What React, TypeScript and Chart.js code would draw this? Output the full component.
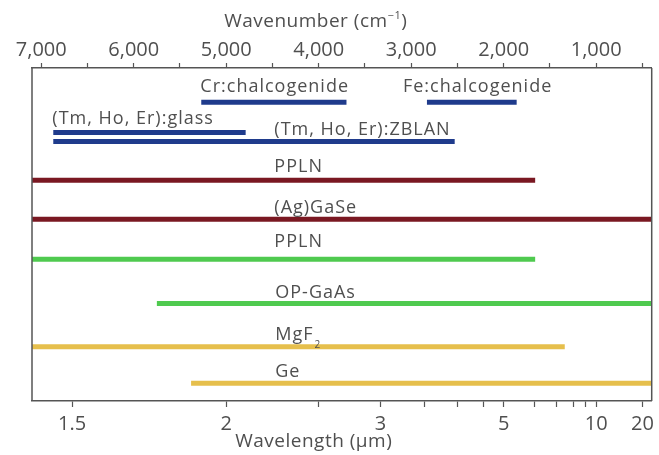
import React, { useEffect, useRef } from 'react';
import { Chart, registerables } from 'chart.js';

Chart.register(...registerables);

const WIDTH = 659;
const HEIGHT = 455;
const FONT_FAMILY = '"Open Sans", "DejaVu Sans", sans-serif';
const TEXT_COLOR = '#4f4f4f';
const AXIS_COLOR = '#555555';

// Horizontal axis: wavenumber in cm⁻¹, high values on the left
const wavenumberMax = 7100;
const wavenumberMin = 400;
const wavenumberTicks = [7000, 6500, 6000, 5500, 5000, 4500, 4000, 3500, 3000, 2500, 2000, 1500, 1000, 500];
const wavenumberTickLabels = [7000, 6000, 5000, 4000, 3000, 2000, 1000];

// The same axis read as wavelength (µm)
const wavelengthTicks = [1.5, 2, 2.5, 3, 3.5, 4, 4.5, 5, 6, 7, 8, 9, 10, 20];
const wavelengthTickLabels = [1.5, 2, 3, 5, 10, 20];

// Comb sources: spectral span (cm⁻¹) and lane (0 = bottom, 10 = top)
const sourceNames = ['Cr:chalcogenide', 'Fe:chalcogenide', '(Tm, Ho, Er):glass', '(Tm, Ho, Er):ZBLAN', 'PPLN', '(Ag)GaSe', 'PPLN', 'OP-GaAs', 'MgF2', 'Ge'];
const sourceKinds = ['laser', 'laser', 'laser', 'laser', 'opo', 'opo', 'dfg', 'dfg', 'micro', 'micro'];
const spanHigh = [5270, 2830, 6870, 6870, 7100, 7100, 7100, 5750, 7100, 5380];
const spanLow = [3700, 1860, 4790, 2530, 1660, 400, 1660, 400, 1340, 400];
const lanes = [8.97, 8.97, 8.06, 7.79, 6.63, 5.46, 4.26, 2.93, 1.63, 0.53];

// Name tags: text, subscript, left end (cm⁻¹) and baseline lane of the text
const tagTexts = ['Cr:chalcogenide', 'Fe:chalcogenide', '(Tm, Ho, Er):glass', '(Tm, Ho, Er):ZBLAN', 'PPLN', '(Ag)GaSe', 'PPLN', 'OP-GaAs', 'MgF', 'Ge'];
const tagSubs = ['', '', '', '', '', '', '', '', '2', ''];
const tagX = [5280, 3090, 6880, 4480, 4480, 4480, 4480, 4470, 4470, 4470];
const tagLanes = [9.29, 9.29, 8.32, 7.99, 6.89, 5.65, 4.62, 3.08, 1.83, 0.73];

const kindColors: Record<string, string> = {
  laser: '#1f3b8c',
  opo: '#7a1822',
  dfg: '#4fca4f',
  micro: '#e6bf4c',
};

const font = (size: number) => `${size}px ${FONT_FAMILY}`;

const sameValue = (a: number, b: number) => Math.abs(a - b) < 0.5;

// Frame, axis titles and source name tags
const annotations = {
  id: 'annotations',
  afterDatasetsDraw(chart: any) {
    const { ctx, chartArea } = chart;
    const xs = chart.scales.x;
    const ys = chart.scales.y;
    ctx.save();

    // left and right edges of the frame
    ctx.strokeStyle = AXIS_COLOR;
    ctx.lineWidth = 1.5;
    ctx.beginPath();
    ctx.moveTo(chartArea.left, chartArea.top);
    ctx.lineTo(chartArea.left, chartArea.bottom);
    ctx.moveTo(chartArea.right, chartArea.top);
    ctx.lineTo(chartArea.right, chartArea.bottom);
    ctx.stroke();

    ctx.fillStyle = TEXT_COLOR;
    ctx.textBaseline = 'alphabetic';
    ctx.textAlign = 'left';
    tagTexts.forEach((text, i) => {
      const px = xs.getPixelForValue(tagX[i]);
      const py = ys.getPixelForValue(tagLanes[i]);
      ctx.font = font(18);
      ctx.letterSpacing = '1px';
      ctx.fillText(text, px, py);
      if (tagSubs[i]) {
        const w = ctx.measureText(text).width;
        ctx.font = font(10);
        ctx.letterSpacing = '0px';
        ctx.fillText(tagSubs[i], px + w + 1, py + 8);
      }
    });

    // axis titles, centred near the 4,000 cm⁻¹ mark
    const cx = xs.getPixelForValue(4000) - 3;

    // top: Wavenumber (cm⁻¹)
    const main = 'Wavenumber (cm';
    ctx.letterSpacing = '0.5px';
    ctx.font = font(19);
    const wMain = ctx.measureText(main).width;
    const wClose = ctx.measureText(')').width;
    ctx.font = font(11);
    const wSup = ctx.measureText('−1').width;
    const x0 = cx - (wMain + wSup + wClose) / 2;
    const topBase = 27;
    ctx.font = font(19);
    ctx.fillText(main, x0, topBase);
    ctx.font = font(11);
    ctx.fillText('−1', x0 + wMain, topBase - 8);
    ctx.font = font(19);
    ctx.fillText(')', x0 + wMain + wSup, topBase);

    // bottom: Wavelength (µm)
    ctx.textAlign = 'center';
    ctx.fillText('Wavelength (µm)', cx - 2, 447);
    ctx.restore();
  },
};

export default function App() {
  const canvasRef = useRef<HTMLCanvasElement | null>(null);

  useEffect(() => {
    const canvas = canvasRef.current;
    if (!canvas) return;

    const datasets = sourceNames.map((name, i) => ({
      label: name,
      data: [
        { x: spanHigh[i], y: lanes[i] },
        { x: spanLow[i], y: lanes[i] },
      ],
      borderColor: kindColors[sourceKinds[i]],
      backgroundColor: kindColors[sourceKinds[i]],
      borderWidth: 5,
      borderCapStyle: 'butt' as const,
      pointRadius: 0,
      pointHoverRadius: 0,
      fill: false,
      xAxisID: 'x',
      yAxisID: 'y',
    }));

    const chart = new Chart(canvas, {
      type: 'line',
      data: { datasets },
      options: {
        animation: false,
        responsive: false,
        devicePixelRatio: 1,
        layout: { padding: { left: 32, right: 4, top: 0, bottom: 0 } },
        plugins: {
          legend: { display: false },
          tooltip: { enabled: false },
          title: { display: false },
        },
        scales: {
          x: {
            type: 'linear',
            position: 'bottom',
            reverse: true,
            min: wavenumberMin,
            max: wavenumberMax,
            afterBuildTicks: (scale: any) => {
              scale.ticks = wavelengthTicks.map((l) => ({ value: 10000 / l }));
            },
            afterFit: (scale: any) => {
              scale.height = 54;
            },
            ticks: {
              autoSkip: false,
              maxRotation: 0,
              padding: 5,
              color: TEXT_COLOR,
              font: { family: FONT_FAMILY, size: 20 },
              callback: (value: any) => {
                const l = wavelengthTickLabels.find((w) => sameValue(10000 / w, Number(value)));
                return l === undefined ? '' : String(l);
              },
            },
            grid: { drawOnChartArea: false, tickLength: 6, tickColor: AXIS_COLOR, tickWidth: 1.2 },
            border: { color: AXIS_COLOR, width: 1.5 },
          },
          x2: {
            type: 'linear',
            position: 'top',
            reverse: true,
            min: wavenumberMin,
            max: wavenumberMax,
            afterBuildTicks: (scale: any) => {
              scale.ticks = wavenumberTicks.map((v) => ({ value: v }));
            },
            afterFit: (scale: any) => {
              scale.height = 68;
            },
            ticks: {
              autoSkip: false,
              maxRotation: 0,
              padding: 1,
              color: TEXT_COLOR,
              font: { family: FONT_FAMILY, size: 20 },
              callback: (value: any) => {
                const v = Number(value);
                return wavenumberTickLabels.some((t) => sameValue(t, v)) ? v.toLocaleString('en-US') : '';
              },
            },
            grid: { drawOnChartArea: false, tickLength: 5, tickColor: AXIS_COLOR, tickWidth: 1.2 },
            border: { color: AXIS_COLOR, width: 1.5 },
          },
          y: {
            type: 'linear',
            display: false,
            min: 0,
            max: 10,
          },
        },
      },
      plugins: [annotations],
    });

    return () => chart.destroy();
  }, []);

  return (
    <div style={{ position: 'fixed', left: 0, top: 0, width: WIDTH, height: HEIGHT, background: '#fff' }}>
      <canvas ref={canvasRef} width={WIDTH} height={HEIGHT} style={{ display: 'block' }} />
    </div>
  );
}
